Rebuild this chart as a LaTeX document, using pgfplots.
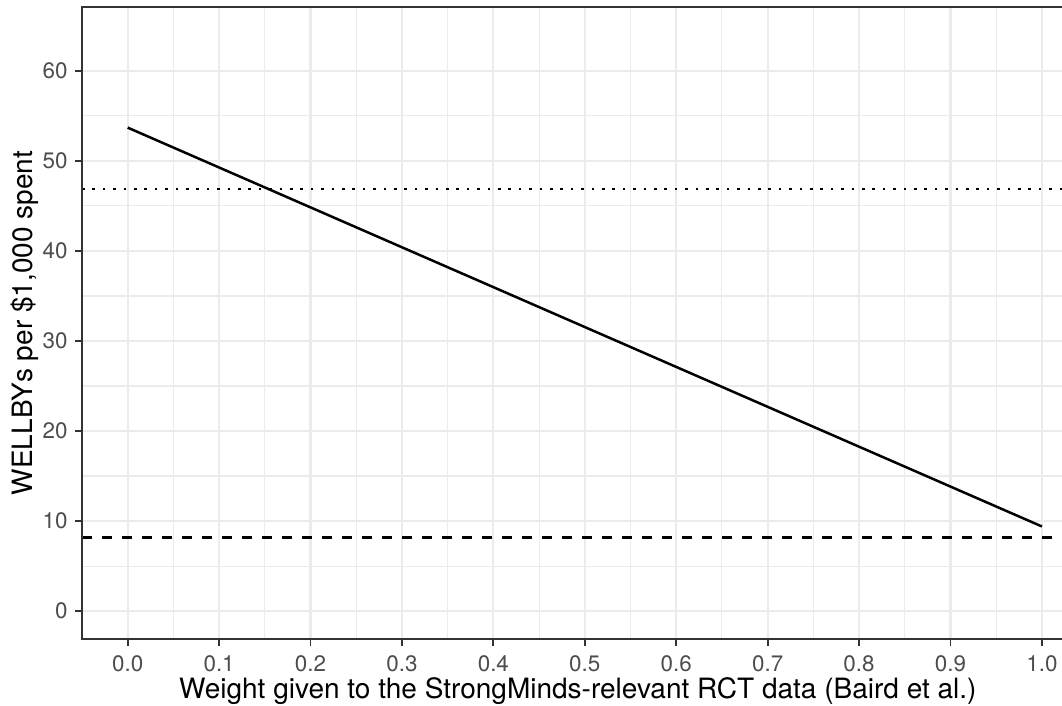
\documentclass[border=0pt]{standalone}
\usepackage{pgfplots}
\pgfplotsset{compat=1.18}
\usepackage{fontspec}
\setmainfont{TeX Gyre Heros}
\definecolor{gridc}{HTML}{EBEBEB}
\definecolor{grey20}{HTML}{333333}
\definecolor{grey30}{HTML}{4D4D4D}
\begin{document}
\begin{tikzpicture}
\begin{axis}[
  scale only axis,
  width=490pt, height=316pt,
  xmin=-0.05, xmax=1.022,
  ymin=-3.1, ymax=67.1,
  xtick={0,0.1,0.2,0.3,0.4,0.5,0.6,0.7,0.8,0.9,1.0},
  ytick={0,10,20,30,40,50,60},
  minor x tick num=1, minor y tick num=1,
  minor tick length=0pt,
  major tick length=3.5pt,
  tick align=outside,
  xtick pos=bottom, ytick pos=left,
  tick style={color=grey20, line width=0.9pt},
  grid=both,
  major grid style={color=gridc, line width=1.1pt},
  minor grid style={color=gridc, line width=0.55pt},
  axis line style={draw=none},
  /pgf/number format/assume math mode=true,
  xticklabel={\pgfmathprintnumber[fixed,fixed zerofill,precision=1]{\tick}},
  yticklabel={\pgfmathprintnumber[fixed,precision=0]{\tick}},
  ticklabel style={font=\fontsize{11.2}{13}\selectfont, color=grey30},
  xticklabel style={inner sep=0pt, anchor=north, yshift=-4.5pt},
  yticklabel style={inner sep=0pt, anchor=east, xshift=-3.5pt},
  xlabel={Weight given to the StrongMinds-relevant RCT data (Baird et al.)},
  ylabel={WELLBYs per \$1,000 spent},
  label style={font=\fontsize{14}{16}\selectfont, color=black},
  xlabel style={at={(axis description cs:0.506,-0.0949)}, anchor=base, inner sep=0pt},
  ylabel style={at={(axis description cs:-0.05,0.5)}, anchor=base, inner sep=0pt},
  clip=false,
]
\addplot[black, line width=1.3pt, dash pattern=on 1.3pt off 3.9pt] coordinates {(-0.05,46.9) (1.022,46.9)};
\addplot[black, line width=1.25pt, dash pattern=on 5pt off 5pt] coordinates {(-0.05,8.2) (1.022,8.2)};
\addplot[black, line width=1.25pt] coordinates {(0,53.7) (1,9.4)};
\draw[color=grey20, line width=0.9pt] (rel axis cs:1.05,1) -- (rel axis cs:0,1) -- (rel axis cs:0,0) -- (rel axis cs:1.05,0);
\end{axis}
\pgfresetboundingbox
\path (-41pt,-33.5pt) rectangle (490pt,319.5pt);
\end{tikzpicture}
\end{document}
